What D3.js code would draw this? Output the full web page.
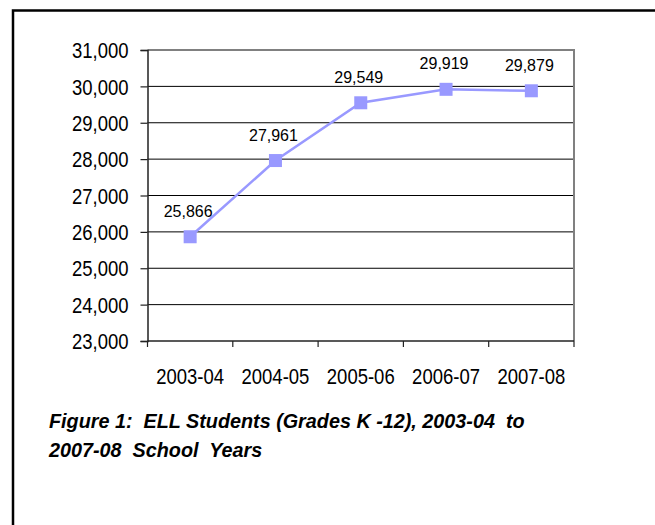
<!DOCTYPE html>
<html>
<head>
<meta charset="utf-8">
<script src="https://cdn.jsdelivr.net/npm/d3@7"></script>
<style>
  html, body { margin: 0; padding: 0; background: #fff; }
  svg { display: block; }
  text { font-family: "Liberation Sans", Arial, sans-serif; fill: #000; }
</style>
</head>
<body>
<svg id="chart" width="655" height="525"></svg>
<script>
// ELL enrollment by school year
const years = ["2003-04", "2004-05", "2005-06", "2006-07", "2007-08"];
const students = [25866, 27961, 29549, 29919, 29879];
const yTicks = [23000, 24000, 25000, 26000, 27000, 28000, 29000, 30000, 31000];
const captionLines = [
  "Figure 1:  ELL Students (Grades K -12), 2003-04  to",
  "2007-08  School  Years"
];

const W = 655, H = 525;
const plot = { left: 147.5, right: 574, top: 50, bottom: 341 };
const accent = "#9999ff";
const stretch = 1.15;   // chart lettering is set slightly tall

const svg = d3.select("#chart");

// frame around the figure (runs off the right and bottom edges)
svg.append("path")
  .attr("d", `M13,${H + 5}V10.5H${W + 5}`)
  .attr("fill", "none")
  .attr("stroke", "#000")
  .attr("stroke-width", 2.5);

const x = d3.scaleBand().domain(years).range([plot.left, plot.right]).padding(0);
const y = d3.scaleLinear().domain([23000, 31000]).range([plot.bottom, plot.top]);
const fmt = d3.format(",");

// horizontal gridlines
svg.append("g")
  .selectAll("line")
  .data(yTicks.filter(t => t > 23000 && t < 31000))
  .join("line")
  .attr("x1", plot.left).attr("x2", plot.right)
  .attr("y1", d => y(d)).attr("y2", d => y(d))
  .attr("stroke", "#000")
  .attr("stroke-width", 1);

// plot area border: top and right in grey
svg.append("path")
  .attr("d", `M${plot.left},${plot.top}H${plot.right}V${plot.bottom}`)
  .attr("fill", "none")
  .attr("stroke", "#808080")
  .attr("stroke-width", 2);

// y axis
const yAxis = svg.append("g")
  .attr("transform", `translate(${plot.left},0)`)
  .call(d3.axisLeft(y).tickValues(yTicks).tickFormat(fmt).tickSize(7).tickPadding(12));
yAxis.select(".domain").attr("stroke", "#222").attr("stroke-width", 1.5);
yAxis.selectAll(".tick line").attr("stroke", "#222").attr("stroke-width", 1.2);
yAxis.selectAll(".tick text")
  .attr("font-size", 18.5)
  .attr("y", 0)
  .attr("dy", "0.36em")
  .attr("transform", `scale(1,${stretch})`)
  .style("font-family", '"Liberation Sans", Arial, sans-serif');

// x axis with ticks on band boundaries
const xAxisG = svg.append("g").attr("transform", `translate(0,${plot.bottom})`);
xAxisG.append("line")
  .attr("x1", plot.left).attr("x2", plot.right)
  .attr("stroke", "#222").attr("stroke-width", 1.5);
const bounds = years.map(d => x(d)).concat([x(years[years.length - 1]) + x.bandwidth()]);
xAxisG.selectAll("line.tk")
  .data(bounds)
  .join("line")
  .attr("class", "tk")
  .attr("x1", d => d).attr("x2", d => d)
  .attr("y1", 0).attr("y2", 6)
  .attr("stroke", "#222").attr("stroke-width", 1.2);
xAxisG.selectAll("text")
  .data(years)
  .join("text")
  .attr("transform", d => `translate(${x(d) + x.bandwidth() / 2},43) scale(1,${stretch})`)
  .attr("text-anchor", "middle")
  .attr("font-size", 18.5)
  .text(d => d);

// series line
const pts = years.map((d, i) => ({ year: d, value: students[i] }));
const cx = d => x(d.year) + x.bandwidth() / 2;
svg.append("path")
  .datum(pts)
  .attr("d", d3.line().x(cx).y(d => y(d.value)))
  .attr("fill", "none")
  .attr("stroke", accent)
  .attr("stroke-width", 2.5);

// square markers
const ms = 13;
svg.append("g")
  .selectAll("rect")
  .data(pts)
  .join("rect")
  .attr("x", d => cx(d) - ms / 2)
  .attr("y", d => y(d.value) - ms / 2)
  .attr("width", ms).attr("height", ms)
  .attr("fill", accent);

// value labels
svg.append("g")
  .selectAll("text")
  .data(pts)
  .join("text")
  .attr("transform", d => `translate(${cx(d) - 2},${y(d.value) - 20}) scale(1,1.08)`)
  .attr("text-anchor", "middle")
  .attr("font-size", 16)
  .text(d => fmt(d.value));

// figure caption
svg.append("g")
  .selectAll("text")
  .data(captionLines)
  .join("text")
  .attr("x", 49)
  .attr("y", (d, i) => 428 + i * 29)
  .attr("font-size", 19.8)
  .attr("font-weight", "bold")
  .attr("font-style", "italic")
  .style("white-space", "pre")
  .text(d => d);
</script>
</body>
</html>
